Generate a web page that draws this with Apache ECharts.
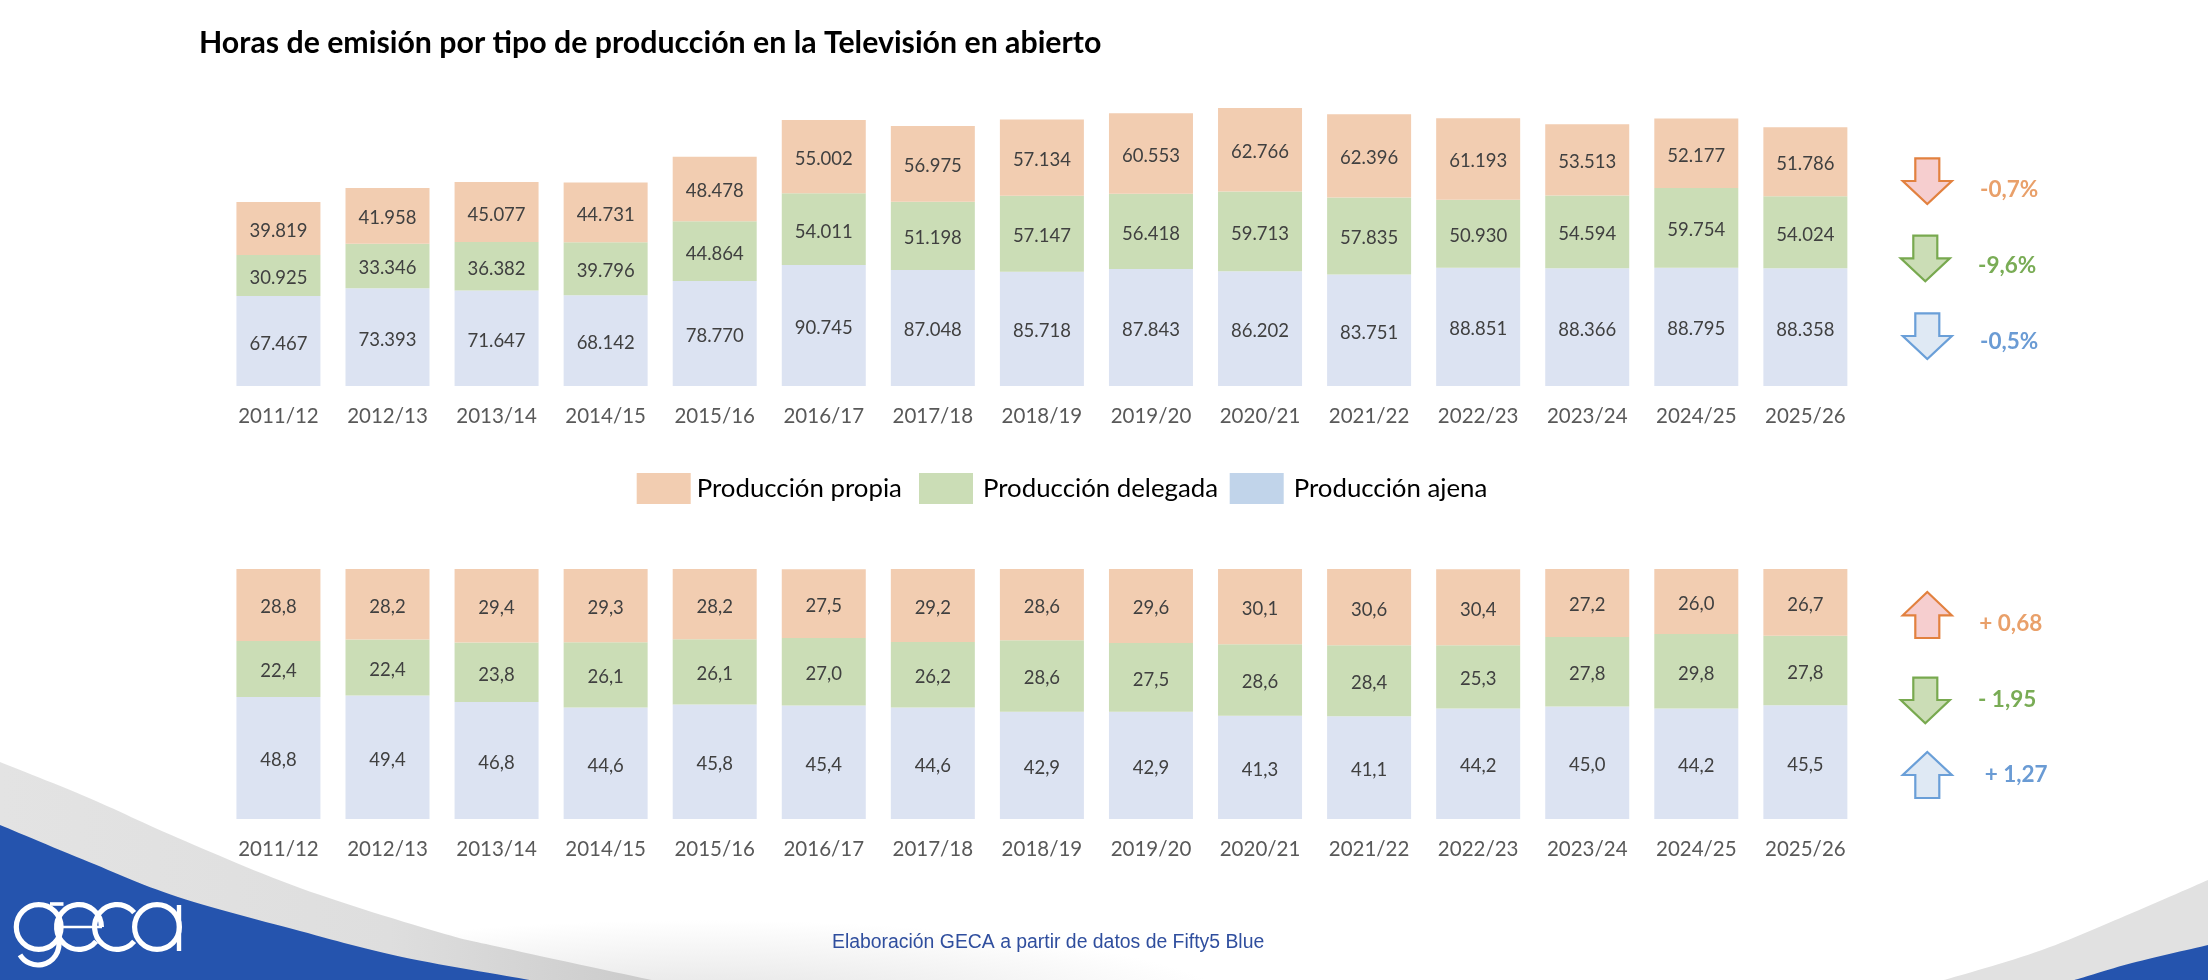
<!DOCTYPE html>
<html><head><meta charset="utf-8">
<script src="https://cdn.jsdelivr.net/npm/echarts@6/dist/echarts.min.js"></script>
<style>html,body{margin:0;padding:0;background:#fff}#c{width:2208px;height:980px}</style>
</head><body><div id="c"></div>
<script>
const categories = ['2011/12','2012/13','2013/14','2014/15','2015/16','2016/17','2017/18','2018/19','2019/20','2020/21','2021/22','2022/23','2023/24','2024/25','2025/26'];
const hoursPropia = [39819,41958,45077,44731,48478,55002,56975,57134,60553,62766,62396,61193,53513,52177,51786];
const hoursDelegada = [30925,33346,36382,39796,44864,54011,51198,57147,56418,59713,57835,50930,54594,59754,54024];
const hoursAjena = [67467,73393,71647,68142,78770,90745,87048,85718,87843,86202,83751,88851,88366,88795,88358];
const sharePropia = [28.8,28.2,29.4,29.3,28.2,27.5,29.2,28.6,29.6,30.1,30.6,30.4,27.2,26.0,26.7];
const shareDelegada = [22.4,22.4,23.8,26.1,26.1,27.0,26.2,28.6,27.5,28.6,28.4,25.3,27.8,29.8,27.8];
const shareAjena = [48.8,49.4,46.8,44.6,45.8,45.4,44.6,42.9,42.9,41.3,41.1,44.2,45.0,44.2,45.5];
const seriesNames = ['Producción propia','Producción delegada','Producción ajena'];
const titleText = 'Horas de emisión por tipo de producción en la Televisión en abierto';
const footerText = 'Elaboración GECA a partir de datos de Fifty5 Blue';
const hoursChanges = ['-0,7%','-9,6%','-0,5%'];
const shareChanges = ['+ 0,68','- 1,95','+ 1,27'];

const FONT='Lato';
const C={o:'#F2CDB1',g:'#CBDDB6',b:'#DCE3F2',lb:'#C1D4EA'};
const thousands=v=>String(v).replace(/\B(?=(\d{3})+$)/g,'.');
const decimal=v=>v.toFixed(1).replace('.',',');

function makeSeries(data,color,name,ax,fmt){
  return {type:'bar',name,stack:'s'+ax,xAxisIndex:ax,yAxisIndex:ax,data,barWidth:84,
    itemStyle:{color},emphasis:{disabled:true},silent:true,
    label:{show:true,position:'inside',offset:[0,2.5],formatter:p=>fmt(p.value),color:'#404040',fontFamily:FONT,fontSize:18.5}};
}
function spline(pts,n=14){
  const out=[];
  for(let i=0;i<pts.length-1;i++){
    const p0=pts[Math.max(i-1,0)],p1=pts[i],p2=pts[i+1],p3=pts[Math.min(i+2,pts.length-1)];
    for(let k=0;k<n;k++){const t=k/n,t2=t*t,t3=t2*t;
      out.push([0,1].map(d=>.5*(2*p1[d]+(p2[d]-p0[d])*t+(2*p0[d]-5*p1[d]+4*p2[d]-p3[d])*t2+(3*p1[d]-p0[d]-3*p2[d]+p3[d])*t3)));
    }
  }
  out.push(pts[pts.length-1]);return out;
}
const grad=(stops,x,x2)=>({type:'linear',x:x,y:0,x2:x2,y2:0,global:true,colorStops:stops});
function swoosh(pts,close,fill){return {type:'polygon',z:-10,silent:true,shape:{points:spline(pts).concat(close)},style:{fill}};}

function arrowDown(cx,top,sh,tip,stroke,fill){
  return {type:'polygon',silent:true,shape:{points:[[cx-12,top],[cx+12,top],[cx+12,sh],[cx+24.5,sh],[cx,tip],[cx-24.5,sh],[cx-12,sh]]},style:{fill,stroke,lineWidth:2.2,lineJoin:'miter'}};
}
function arrowUp(cx,tip,sh,bot,stroke,fill){
  return {type:'polygon',silent:true,shape:{points:[[cx-12,bot],[cx+12,bot],[cx+12,sh],[cx+24.5,sh],[cx,tip],[cx-24.5,sh],[cx-12,sh]]},style:{fill,stroke,lineWidth:2.2,lineJoin:'miter'}};
}
function tx(x,y,text,fill,size=22.5,weight='bold',font=FONT){
  return {type:'text',silent:true,x,y,style:{text,fill,fontSize:size,fontWeight:weight,fontFamily:font,verticalAlign:'middle'}};
}
const COL={o:'#E2813F',g:'#78A94F',b:'#6A9FD8',to:'#E9A06A',tg:'#79AC55',tb:'#6A9BD4',fo:'#F6CECF',fg:'#CBDDB6',fb:'#DFE9F4'};

// GECA logo, drawn with strokes
const logoStyle=w=>({stroke:'#FFFFFF',fill:'none',lineWidth:w});
const ring=(cx,cy,r,s,e)=>({type:'arc',silent:true,z:5,shape:{cx,cy,r,startAngle:s,endAngle:e,clockwise:true},style:logoStyle(5.2)});
const seg=(x1,y1,x2,y2,w)=>({type:'line',silent:true,z:5,shape:{x1,y1,x2,y2},style:logoStyle(w)});
const TAU=Math.PI*2;
const logo=[
  ring(38.7,927,22.4,0,TAU),
  seg(50,904,63.5,904,3.6),
  ring(38,944,21,-0.2,2.6),
  ring(79,927,22.4,0.7,TAU),
  seg(57,927,102,927,2.6),
  ring(117,927,22.4,0.7,TAU-0.7),
  ring(157,927,22.4,0,TAU),
  seg(179,905,179,951,4.4)
];

const graphics=[
  {type:'circle',z:-11,silent:true,x:700,y:1012,scaleX:5.9,shape:{cx:0,cy:0,r:92},style:{fill:{type:'radial',x:.5,y:.5,r:.5,colorStops:[{offset:0,color:'#E0E0E0'},{offset:.55,color:'#F1F1F1'},{offset:1,color:'#FFFFFF'}]}}},
  swoosh([[0,762],[89,798],[178,838],[300,888],[438,932],[504,948],[647,979],[655,980]],[[0,980]],grad([{offset:0,color:'#E3E3E3'},{offset:.6,color:'#DEDEDE'},{offset:1,color:'#CBCBCB'}],0,650)),
  swoosh([[0,825],[89,862],[178,897],[300,931],[402,957],[524,979],[530,980]],[[0,980]],'#2554AE'),
  swoosh([[2208,880],[2132,913],[2042,950],[1951,978],[1940,980]],[[2208,980]],'#E1E1E1'),
  swoosh([[2208,945],[2132,963],[2078,979],[2070,980]],[[2208,980]],'#2554AE'),
  ...logo,
  tx(199,43,titleText,'#000000',30.3,'bold'),
  arrowDown(1927.3,158.3,181,204,COL.o,COL.fo),
  arrowDown(1925.3,235.7,258.3,281.3,COL.g,COL.fg),
  arrowDown(1927.3,313.3,336,359,COL.b,COL.fb),
  arrowUp(1927.3,592,615.3,638,COL.o,COL.fo),
  arrowDown(1925.3,677.7,700,723.3,COL.g,COL.fg),
  arrowUp(1927.3,752,775,798,COL.b,COL.fb),
  tx(1980,189.7,hoursChanges[0],COL.to),
  tx(1978,265.7,hoursChanges[1],COL.tg),
  tx(1980,341.7,hoursChanges[2],COL.tb),
  tx(1979.3,623.7,shareChanges[0],COL.to),
  tx(1978,699.7,shareChanges[1],COL.tg),
  tx(1984.7,774.7,shareChanges[2],COL.tb),
  tx(832,943,footerText,'#2F4E9E',19.4,'normal','"Liberation Sans"')
];

const axisLabel=(margin)=>({color:'#595959',fontFamily:FONT,fontSize:20.5,margin,interval:0});
function legendItem(i,color,left,pad){
  return {data:[{name:seriesNames[i],itemStyle:{color}}],left,top:473,padding:0,itemWidth:54,itemHeight:31,itemGap:0,
    icon:'rect',selectedMode:false,textStyle:{color:'#000',fontFamily:FONT,fontSize:25.8,padding:[0,0,0,pad]}};
}
const option={
  animation:false,backgroundColor:'#fff',
  grid:[{left:223.9,width:1636,top:108,height:278},{left:223.9,width:1636,top:569,height:250}],
  xAxis:[0,1].map(i=>({type:'category',gridIndex:i,data:categories,axisLine:{show:false},axisTick:{show:false},axisLabel:axisLabel(i?19.6:20)})),
  yAxis:[{type:'value',gridIndex:0,min:0,max:208681,show:false,splitLine:{show:false}},{type:'value',gridIndex:1,min:0,max:100,show:false,splitLine:{show:false}}],
  legend:[legendItem(0,C.o,636.7,1),legendItem(1,C.g,919,5),legendItem(2,C.lb,1229.7,5)],
  graphic:graphics,
  series:[
    makeSeries(hoursAjena,C.b,seriesNames[2],0,thousands),
    makeSeries(hoursDelegada,C.g,seriesNames[1],0,thousands),
    makeSeries(hoursPropia,C.o,seriesNames[0],0,thousands),
    makeSeries(shareAjena,C.b,seriesNames[2],1,decimal),
    makeSeries(shareDelegada,C.g,seriesNames[1],1,decimal),
    makeSeries(sharePropia,C.o,seriesNames[0],1,decimal)
  ]
};
echarts.init(document.getElementById('c'),null,{renderer:'canvas'}).setOption(option);
</script></body></html>
